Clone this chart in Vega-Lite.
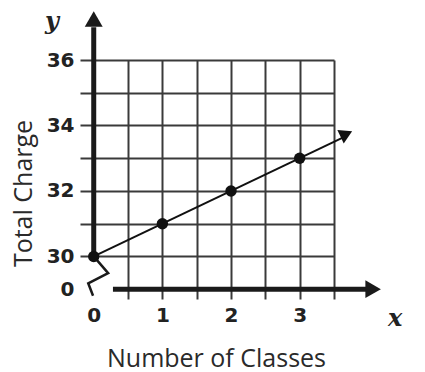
{
  "$schema": "https://vega.github.io/schema/vega-lite/v6.json",
  "autosize": {"type": "none"},
  "padding": {"left": 80, "top": 60, "right": 91, "bottom": 73},
  "width": 254,
  "height": 239,
  "background": "white",
  "config": {"view": {"stroke": null}},
  "datasets": {
    "points": [
      {"classes": 0, "charge": 30},
      {"classes": 1, "charge": 31},
      {"classes": 2, "charge": 32},
      {"classes": 3, "charge": 33}
    ],
    "yaxis": [{"classes": 0, "charge": 30, "charge2": 37}],
    "xaxis": [{"classes": 0.28, "classes2": 4.0, "charge": 29}],
    "zigzag": [
      {"step": 1, "classes": 0, "charge": 30},
      {"step": 2, "classes": 0.21, "charge": 29.49},
      {"step": 3, "classes": -0.08, "charge": 29.18},
      {"step": 4, "classes": -0.01, "charge": 28.8}
    ],
    "trend": [{"classes": 0, "charge": 30, "classes2": 3.62, "charge2": 33.62}],
    "yarrow": [{"classes": 0, "charge": 37.25}],
    "xarrow": [{"classes": 4.07, "charge": 29}],
    "tarrow": [{"classes": 3.68, "charge": 33.74}],
    "letters": [
      {"classes": -0.61, "charge": 37.16, "label": "y"},
      {"classes": 4.39, "charge": 28.1, "label": "x"}
    ]
  },
  "encoding": {
    "x": {
      "field": "classes",
      "type": "quantitative",
      "scale": {"domain": [-0.2, 3.5], "nice": false, "zero": false},
      "axis": {
        "values": [0, 0.5, 1, 1.5, 2, 2.5, 3, 3.5],
        "labelExpr": "datum.value % 1 == 0 ? format(datum.value, 'd') : ''",
        "grid": true,
        "gridColor": "#3a3a3a",
        "gridWidth": 2,
        "gridOpacity": {"condition": {"test": "datum.value == 0", "value": 0}, "value": 1},
        "ticks": false,
        "domain": false,
        "labelFont": "DejaVu Sans",
        "labelFontSize": 20,
        "labelFontWeight": "bold",
        "labelColor": "#222222",
        "labelPadding": 6,
        "title": "Number of Classes",
        "titleFont": "Open Sans",
        "titleFontSize": 25,
        "titleFontWeight": "normal",
        "titleColor": "#2a2a2a",
        "titleX": 136,
        "titleY": 59,
        "titleBaseline": "middle"
      }
    },
    "y": {
      "field": "charge",
      "type": "quantitative",
      "scale": {"domain": [28.7, 36], "nice": false, "zero": false},
      "axis": {
        "values": [29, 30, 31, 32, 33, 34, 35, 36],
        "labelExpr": "datum.value == 29 ? '0' : (datum.value % 2 == 0 ? datum.label : '')",
        "grid": true,
        "gridColor": "#3a3a3a",
        "gridWidth": 2,
        "gridOpacity": {"condition": {"test": "datum.value == 29", "value": 0}, "value": 1},
        "ticks": false,
        "domain": false,
        "labelFont": "DejaVu Sans",
        "labelFontSize": 20,
        "labelFontWeight": "bold",
        "labelColor": "#222222",
        "labelPadding": 6,
        "title": "Total Charge",
        "titleFont": "Open Sans",
        "titleFontSize": 25,
        "titleFontWeight": "normal",
        "titleColor": "#2a2a2a",
        "titleAngle": -90,
        "titleX": -57,
        "titleY": 133,
        "titleBaseline": "middle"
      }
    }
  },
  "layer": [
    {
      "data": {"name": "yaxis"},
      "mark": {"type": "rule", "strokeWidth": 5, "color": "#1a1a1a"},
      "encoding": {"y2": {"field": "charge2"}}
    },
    {
      "data": {"name": "xaxis"},
      "mark": {"type": "rule", "strokeWidth": 5, "color": "#1a1a1a"},
      "encoding": {"x2": {"field": "classes2"}}
    },
    {
      "data": {"name": "zigzag"},
      "mark": {"type": "line", "strokeWidth": 2.5, "color": "#1a1a1a"},
      "encoding": {"order": {"field": "step", "type": "quantitative"}}
    },
    {
      "data": {"name": "trend"},
      "mark": {"type": "rule", "strokeWidth": 2, "color": "#111111"},
      "encoding": {"x2": {"field": "classes2"}, "y2": {"field": "charge2"}}
    },
    {
      "data": {"name": "yarrow"},
      "mark": {"type": "point", "shape": "triangle-up", "filled": true, "size": 320, "color": "#1a1a1a", "opacity": 1}
    },
    {
      "data": {"name": "xarrow"},
      "mark": {"type": "point", "shape": "triangle-right", "filled": true, "size": 320, "color": "#1a1a1a", "opacity": 1}
    },
    {
      "data": {"name": "tarrow"},
      "mark": {"type": "point", "shape": "triangle-right", "angle": -25.5, "filled": true, "size": 220, "color": "#111111", "opacity": 1}
    },
    {
      "data": {"name": "points"},
      "mark": {"type": "circle", "size": 130, "color": "#111111", "opacity": 1}
    },
    {
      "data": {"name": "letters"},
      "mark": {"type": "text", "font": "DejaVu Serif", "fontStyle": "italic", "fontWeight": "bold", "fontSize": 24, "color": "#222222"},
      "encoding": {"text": {"field": "label"}}
    }
  ]
}
